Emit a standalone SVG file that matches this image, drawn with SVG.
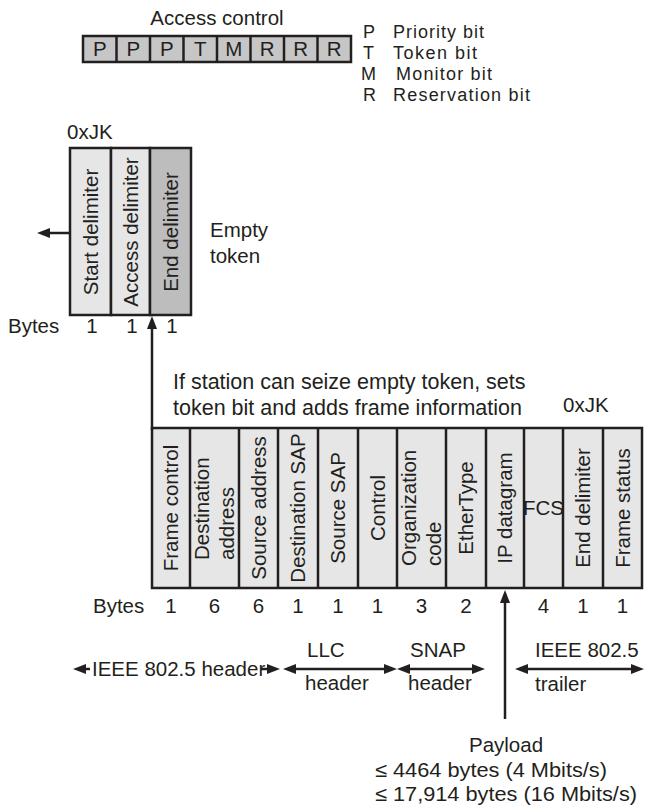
<svg xmlns="http://www.w3.org/2000/svg" width="645" height="805" viewBox="0 0 645 805">
<defs>
<style>
text{font-family:"Liberation Sans","DejaVu Sans",sans-serif;font-size:20.5px;fill:#231f20}
.box{stroke:#231f20;stroke-width:2.5}
.ac{fill:#c6c6c6}
.lt{fill:#e6e6e6}
.dk{fill:#bdbdbd}
.ln{fill:none;stroke:#231f20;stroke-width:2.5}
.c{text-anchor:middle}
.bit{font-size:18px}
.lg{font-size:18px}
.big{font-size:21.5px}
</style>
<marker id="ah" viewBox="0 0 13 10" refX="7" refY="5" markerWidth="13" markerHeight="10" markerUnits="userSpaceOnUse" orient="auto-start-reverse">
<path d="M0,0 L13,5 L0,10 Z" fill="#231f20"/>
</marker>
</defs>
<rect width="645" height="805" fill="#fff"/>

<g id="access-control">
<text x="217" y="25" class="c">Access control</text>
<rect x="83" y="36" width="268" height="26" class="box ac"/>
<g class="ln">
<line x1="116.5" y1="36" x2="116.5" y2="62"/><line x1="150" y1="36" x2="150" y2="62"/><line x1="183.5" y1="36" x2="183.5" y2="62"/><line x1="217" y1="36" x2="217" y2="62"/><line x1="250.5" y1="36" x2="250.5" y2="62"/><line x1="284" y1="36" x2="284" y2="62"/><line x1="317.5" y1="36" x2="317.5" y2="62"/>
</g>
<g class="c bit">
<text x="99.75" y="55.5">P</text><text x="133.25" y="55.5">P</text><text x="166.75" y="55.5">P</text><text x="200.25" y="55.5">T</text><text x="233.75" y="55.5">M</text><text x="267.25" y="55.5">R</text><text x="300.75" y="55.5">R</text><text x="334.25" y="55.5">R</text>
</g>
</g>

<g id="legend" class="lg">
<text x="363" y="38" class="lg">P</text><text x="393" y="38" class="lg" textLength="91" lengthAdjust="spacing">Priority bit</text>
<text x="363" y="59" class="lg">T</text><text x="393" y="59" class="lg" textLength="84" lengthAdjust="spacing">Token bit</text>
<text x="361" y="80" class="lg">M</text><text x="396" y="80" class="lg" textLength="96" lengthAdjust="spacing">Monitor bit</text>
<text x="363" y="101" class="lg">R</text><text x="393" y="101" class="lg" textLength="137" lengthAdjust="spacing">Reservation bit</text>
</g>

<g id="empty-token">
<text x="67" y="139">0xJK</text>
<rect x="70" y="148" width="41" height="167" class="box lt"/>
<rect x="111" y="148" width="39" height="167" class="box lt"/>
<rect x="150" y="148" width="41" height="167" class="box dk"/>
<text class="c" transform="translate(90.5,232) rotate(-90)" dy="0.35em">Start delimiter</text>
<text class="c" transform="translate(130.5,232) rotate(-90)" dy="0.35em">Access delimiter</text>
<text class="c" transform="translate(170.5,232) rotate(-90)" dy="0.35em">End delimiter</text>
<text x="210" y="237">Empty</text>
<text x="210" y="263">token</text>
<text x="8" y="333">Bytes</text>
<text x="92" y="333" class="c">1</text><text x="132" y="333" class="c">1</text><text x="172" y="333" class="c">1</text>
</g>

<g id="frame">
<text x="173" y="389" class="big">If station can seize empty token, sets</text>
<text x="173" y="415" class="big">token bit and adds frame information</text>
<text x="563" y="412">0xJK</text>
<rect x="152" y="428" width="490" height="160" class="box lt"/>
<g class="ln">
<line x1="190" y1="428" x2="190" y2="588"/><line x1="239" y1="428" x2="239" y2="588"/><line x1="278" y1="428" x2="278" y2="588"/><line x1="318" y1="428" x2="318" y2="588"/><line x1="358" y1="428" x2="358" y2="588"/><line x1="397" y1="428" x2="397" y2="588"/><line x1="446" y1="428" x2="446" y2="588"/><line x1="486" y1="428" x2="486" y2="588"/><line x1="524" y1="428" x2="524" y2="588"/><line x1="563" y1="428" x2="563" y2="588"/><line x1="603" y1="428" x2="603" y2="588"/>
</g>
<text class="c" transform="translate(171,508) rotate(-90)" dy="0.35em">Frame control</text>
<text transform="translate(202,560) rotate(-90)" dy="0.35em">Destination</text>
<text transform="translate(227,560) rotate(-90)" dy="0.35em">address</text>
<text class="c" transform="translate(258.5,508) rotate(-90)" dy="0.35em">Source address</text>
<text class="c" transform="translate(298,508) rotate(-90)" dy="0.35em">Destination SAP</text>
<text class="c" transform="translate(338,508) rotate(-90)" dy="0.35em">Source SAP</text>
<text class="c" transform="translate(377.5,508) rotate(-90)" dy="0.35em">Control</text>
<text transform="translate(409,566) rotate(-90)" dy="0.35em">Organization</text>
<text transform="translate(434,566) rotate(-90)" dy="0.35em">code</text>
<text class="c" transform="translate(466,508) rotate(-90)" dy="0.35em">EtherType</text>
<text class="c" transform="translate(505,508) rotate(-90)" dy="0.35em">IP datagram</text>
<text class="c" x="543.5" y="515">FCS</text>
<text class="c" transform="translate(583,508) rotate(-90)" dy="0.35em">End delimiter</text>
<text class="c" transform="translate(622.5,508) rotate(-90)" dy="0.35em">Frame status</text>
<text x="93" y="613">Bytes</text>
<g class="c">
<text x="171" y="613">1</text><text x="214.5" y="613">6</text><text x="258.5" y="613">6</text><text x="298" y="613">1</text><text x="338" y="613">1</text><text x="377.5" y="613">1</text><text x="421.5" y="613">3</text><text x="466" y="613">2</text><text x="543.5" y="613">4</text><text x="583" y="613">1</text><text x="622.5" y="613">1</text>
</g>
</g>

<g id="labels">
<text x="92" y="676">IEEE 802.5 header</text>
<text x="307" y="657">LLC</text>
<text x="305" y="690">header</text>
<text x="410" y="657">SNAP</text>
<text x="408" y="690">header</text>
<text x="535" y="657">IEEE 802.5</text>
<text x="535" y="691">trailer</text>
<text x="506" y="752" class="c">Payload</text>
<text x="375" y="777" textLength="232" lengthAdjust="spacingAndGlyphs">≤ 4464 bytes (4 Mbits/s)</text>
<text x="375" y="801" textLength="262" lengthAdjust="spacingAndGlyphs">≤ 17,914 bytes (16 Mbits/s)</text>
</g>

<g id="connectors" class="ln">
<line x1="152" y1="430" x2="152" y2="322" marker-end="url(#ah)"/>
<line x1="70" y1="233" x2="43" y2="233" marker-end="url(#ah)"/>
<line x1="505" y1="719" x2="505" y2="596" marker-end="url(#ah)"/>
<line x1="90" y1="669" x2="79" y2="669" marker-end="url(#ah)"/>
<line x1="261" y1="669" x2="274" y2="669" marker-end="url(#ah)"/>
<line x1="289" y1="669" x2="391" y2="669" marker-start="url(#ah)" marker-end="url(#ah)"/>
<line x1="403" y1="669" x2="479" y2="669" marker-start="url(#ah)" marker-end="url(#ah)"/>
<line x1="521" y1="669" x2="638" y2="669" marker-start="url(#ah)" marker-end="url(#ah)"/>
</g>
</svg>
